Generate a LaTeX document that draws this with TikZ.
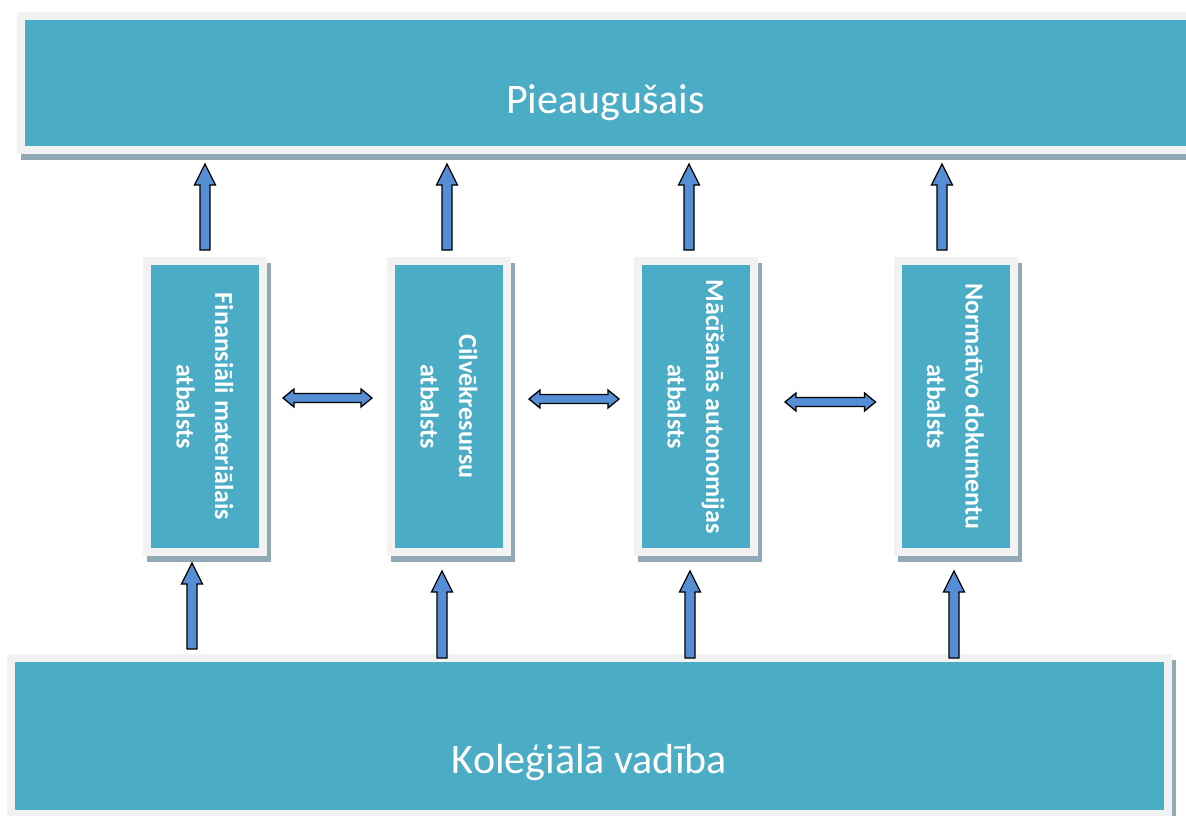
\documentclass[tikz,border=0pt]{standalone}
\usepackage{fontspec}
\setmainfont{Carlito}
\usetikzlibrary{calc, backgrounds}

\definecolor{boxteal}{HTML}{4BACC6}
\definecolor{framegray}{HTML}{F2F2F2}
\definecolor{shadowgray}{HTML}{90A9B4}
\definecolor{arrowblue}{HTML}{558ED5}

\tikzset{
  panel/.style={fill=boxteal, draw=framegray, line width=8pt, outer sep=4pt, inner sep=0pt, text=white},
  pillar/.style={panel, rotate=-90, minimum width=291pt, minimum height=116pt, align=center,
    font=\bfseries\fontsize{26}{38.5}\selectfont},
  uparrow/.style={draw=black, fill=arrowblue, line width=1.3pt, line join=miter,
    to path={let \p1=(\tikztostart), \p2=(\tikztotarget) in
      (\x1-5pt,\y1) -- (\x1-5pt,\y2-21pt) -- (\x1-10.5pt,\y2-21pt) -- (\x1,\y2)
      -- (\x1+10.5pt,\y2-21pt) -- (\x1+5pt,\y2-21pt) -- (\x1+5pt,\y1) -- cycle}},
  twoway/.style={draw=black, fill=arrowblue, line width=1.3pt, line join=miter,
    to path={let \p1=(\tikztostart), \p2=(\tikztotarget) in
      (\x1,\y1) -- (\x1+11pt,\y1+9pt) -- (\x1+11pt,\y1+4.5pt) -- (\x2-11pt,\y1+4.5pt)
      -- (\x2-11pt,\y1+9pt) -- (\x2,\y1) -- (\x2-11pt,\y1-9pt) -- (\x2-11pt,\y1-4.5pt)
      -- (\x1+11pt,\y1-4.5pt) -- (\x1+11pt,\y1-9pt) -- cycle}}
}

\begin{document}
\begin{tikzpicture}[x=1pt, y=-1pt]
      \useasboundingbox (0,0) rectangle (1186,816);

      % top and bottom bands
      \node[panel, minimum width=1169pt, minimum height=134pt, text height=60pt, text depth=0pt,
        font=\fontsize{42}{50}\selectfont] (top) at (605.5,83) {Pieaugušais};
      \node[panel, minimum width=1157pt, minimum height=156pt, text height=74pt, text depth=0pt,
        font=\fontsize{42}{50}\selectfont] (bot) at (589.5,736) {Koleģiālā vadība};

      % the four kinds of support (rotated: west is up, east is down)
      \node[pillar] (b1) at (205,406.5) {Finansiāli materiālais\\atbalsts};
      \node[pillar] (b2) at (449,406.5) {Cilvēkresursu\\atbalsts};
      \node[pillar] (b3) at (696,406.5) {Mācīšanās autonomijas\\atbalsts};
      \node[pillar] (b4) at (955.5,406.5) {Normatīvo dokumentu\\atbalsts};

      \begin{scope}[on background layer]
        \foreach \nm in {top,bot,b1,b2,b3,b4}
          \fill[shadowgray] ($(\nm.south west)+(4,6)$) rectangle ($(\nm.north east)+(4,6)$);
      \end{scope}

      % arrows up to the top band
      \foreach \b/\dx in {b1/0, b2/-2, b3/-7, b4/-13.5}
        \draw[uparrow] ($(\b.west)+(\dx,-7)$) to ($(\b.west |- top.south)+(\dx,10)$);

      % arrows up from the bottom band
      \foreach \b/\dx/\dt/\db in {b1/-13/7/-5, b2/-7/15/4, b3/-6/15/4, b4/-1.5/15/4}
        \draw[uparrow] ($(\b.east |- bot.north)+(\dx,\db)$) to ($(\b.east)+(\dx,\dt)$);

      % arrows between the boxes
      \draw[twoway] ($(b1.north)+(16,-8.5)$) to ($(b2.south)+(-15,-8.5)$);
      \draw[twoway] ($(b2.north)+(18,-7.5)$) to ($(b3.south)+(-15,-7.5)$);
      \draw[twoway] ($(b3.north)+(27,-4.5)$) to ($(b4.south)+(-18,-4.5)$);

    \end{tikzpicture}
\end{document}
